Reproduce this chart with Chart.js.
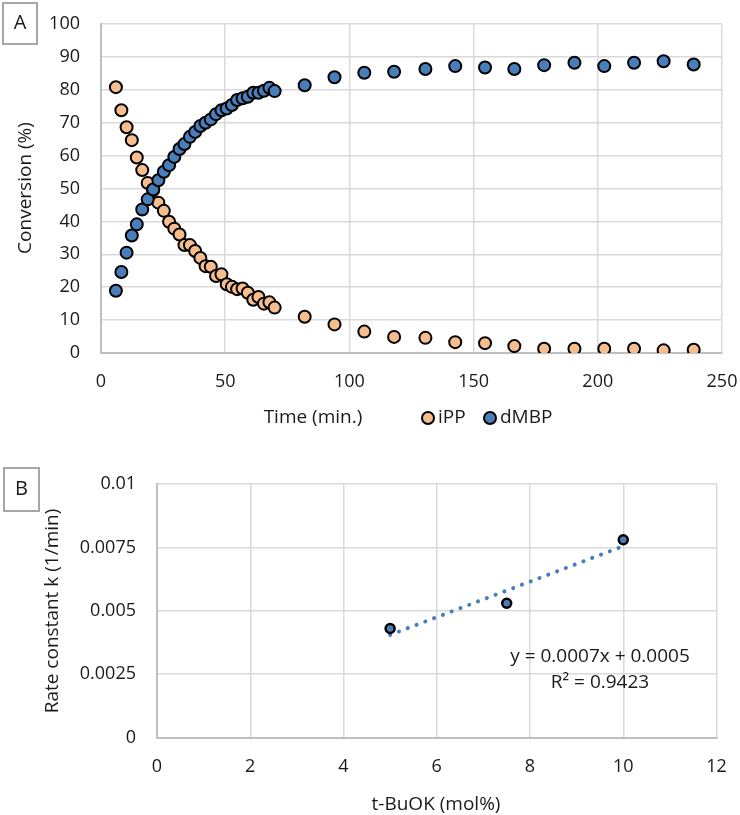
<!DOCTYPE html>
<html>
<head>
<meta charset="utf-8">
<script src="https://cdn.jsdelivr.net/npm/chart.js@4.4.1/dist/chart.umd.min.js"></script>
<style>
    body { margin: 0; background: #fff; }
    #wrap { position: relative; width: 740px; height: 815px; }
    canvas { position: absolute; left: 0; }
</style>
</head>
<body>
<div id="wrap">
    <canvas id="chartA" width="740" height="455" style="top:0"></canvas>
    <canvas id="chartB" width="740" height="360" style="top:455px"></canvas>
</div>
<script>
// ---- Panel A data: conversion vs time ----
var timeMin = [6, 8.2, 10.3, 12.4, 14.4, 16.6, 18.8, 21, 23.1, 25.3, 27.4, 29.5, 31.6, 33.6, 35.8,
    37.9, 40, 42.1, 44.2, 46.3, 48.5, 50.6, 52.7, 54.8, 57, 59.1, 61.3, 63.4, 65.6, 67.8, 69.9,
    82, 94, 106, 118, 130.6, 142.6, 154.6, 166.4, 178.4, 190.6, 202.6, 214.6, 226.5, 238.6];
var iPP = [80.8, 73.8, 68.6, 64.7, 59.4, 55.6, 51.7, 49.5, 45.7, 43.2, 39.9, 37.8, 36.0, 32.8, 32.8,
    31.0, 28.9, 26.4, 26.2, 23.4, 23.9, 20.9, 20.1, 19.4, 19.6, 18.3, 16.2, 17.0, 15.0, 15.4, 13.8,
    11.0, 8.7, 6.5, 4.9, 4.6, 3.3, 3.0, 2.1, 1.3, 1.3, 1.3, 1.3, 0.8, 1.0];
var dMBP = [18.9, 24.6, 30.5, 35.7, 39.1, 43.6, 46.7, 49.7, 52.5, 55.1, 57.1, 59.6, 62.0, 63.5, 65.7,
    67.2, 69.0, 70.0, 71.0, 72.6, 73.8, 74.3, 75.4, 76.9, 77.4, 77.9, 79.1, 79.1, 79.7, 80.6, 79.6,
    81.4, 83.8, 85.2, 85.5, 86.3, 87.2, 86.8, 86.3, 87.5, 88.2, 87.2, 88.2, 88.7, 87.7];
var xTicksA = ['0', '50', '100', '150', '200', '250'];
var yTicksA = ['0', '10', '20', '30', '40', '50', '60', '70', '80', '90', '100'];

// ---- Panel B data: rate constant vs base loading ----
var buokMol = [5, 7.5, 10];
var rateK = [0.0043, 0.0053, 0.0078];
var xTicksB = ['0', '2', '4', '6', '8', '10', '12'];
var yTicksB = ['0', '0.0025', '0.005', '0.0075', '0.01'];
var fitLabel = 'y = 0.0007x + 0.0005';
var r2Label = 'R\u00B2 = 0.9423';

var ORANGE = '#F6BD8E';
var BLUE = '#4A7EBB';
var GRID = '#D9D9D9';
var TEXT = '#1a1a1a';

Chart.defaults.font.family = "'Open Sans', sans-serif";
Chart.defaults.color = TEXT;

function pairs(xs, ys) {
    return xs.map(function (x, i) { return { x: x, y: ys[i] }; });
}

// least squares fit, like the Excel trendline
function linFit(xs, ys) {
    var n = xs.length, sx = 0, sy = 0, sxx = 0, sxy = 0;
    for (var i = 0; i < n; i++) {
        sx += xs[i]; sy += ys[i]; sxx += xs[i] * xs[i]; sxy += xs[i] * ys[i];
    }
    var m = (n * sxy - sx * sy) / (n * sxx - sx * sx);
    return { m: m, b: (sy - m * sx) / n };
}

function text(ctx, str, x, y, size, align, rot) {
    ctx.save();
    ctx.translate(x, y);
    if (rot) ctx.rotate(rot);
    ctx.font = size + "px 'Open Sans', sans-serif";
    ctx.fillStyle = TEXT;
    ctx.textAlign = align || 'center';
    ctx.textBaseline = 'middle';
    ctx.fillText(str, 0, 0);
    ctx.restore();
}

function panelBox(ctx, label, x, y, w, h) {
    ctx.save();
    ctx.strokeStyle = '#A6A6A6';
    ctx.lineWidth = 2;
    ctx.strokeRect(x, y, w, h);
    ctx.restore();
    text(ctx, label, x + w / 2, y + h / 2, 20);
}

function dot(ctx, x, y, fill) {
    ctx.save();
    ctx.beginPath();
    ctx.arc(x, y, 6, 0, Math.PI * 2);
    ctx.fillStyle = fill;
    ctx.fill();
    ctx.lineWidth = 2;
    ctx.strokeStyle = '#000';
    ctx.stroke();
    ctx.restore();
}

// fixed axis sizes; label overflow padding is dropped so the plot area stays put
function axes(xMin, xMax, xStep, xLabels, yMin, yMax, yStep, yLabels, yWidth, xHeight) {
    return {
        x: {
            type: 'linear', min: xMin, max: xMax,
            ticks: { stepSize: xStep, padding: 18, font: { size: 18 },
                callback: function (v, i) { return xLabels[i]; } },
            grid: { color: GRID, lineWidth: 1.5, drawTicks: false },
            border: { color: '#BFBFBF', width: 2 },
            afterFit: function (s) {
                s.height = xHeight;
                s.paddingLeft = 0; s.paddingRight = 0;
            }
        },
        y: {
            type: 'linear', min: yMin, max: yMax,
            ticks: { stepSize: yStep, padding: 21, font: { size: 18 },
                callback: function (v, i) { return yLabels[i]; } },
            grid: { color: GRID, lineWidth: 1.5, drawTicks: false },
            border: { color: '#BFBFBF', width: 2 },
            afterFit: function (s) {
                s.width = yWidth;
                s.paddingTop = 0; s.paddingBottom = 0;
            }
        }
    };
}

// ---- Chart A ----
new Chart(document.getElementById('chartA').getContext('2d'), {
    type: 'scatter',
    data: {
        datasets: [{
            label: 'iPP',
            data: pairs(timeMin, iPP),
            backgroundColor: ORANGE,
            borderColor: '#000',
            borderWidth: 2,
            pointRadius: 6,
            order: 1
        }, {
            label: 'dMBP',
            data: pairs(timeMin, dMBP),
            backgroundColor: BLUE,
            borderColor: '#000',
            borderWidth: 2,
            pointRadius: 6,
            order: 0
        }]
    },
    options: {
        responsive: false,
        animation: false,
        layout: { padding: { top: 24, right: 18, left: 0, bottom: 0 } },
        plugins: { legend: { display: false }, tooltip: { enabled: false } },
        scales: axes(0, 250, 50, xTicksA, 0, 100, 10, yTicksA, 101, 102)
    },
    plugins: [{
        id: 'labelsA',
        afterDraw: function (chart) {
            var ctx = chart.ctx;
            panelBox(ctx, 'A', 3, 3, 34, 41);
            text(ctx, 'Conversion (%)', 26, 188, 19, 'center', -Math.PI / 2);
            text(ctx, 'Time (min.)', 313, 418, 19);
            dot(ctx, 428, 418, ORANGE);
            text(ctx, 'iPP', 438, 418, 19, 'left');
            dot(ctx, 490, 418, BLUE);
            text(ctx, 'dMBP', 500, 418, 19, 'left');
        }
    }]
});

// ---- Chart B ----
var fit = linFit(buokMol, rateK);
var fitX = [buokMol[0], buokMol[buokMol.length - 1]];

new Chart(document.getElementById('chartB').getContext('2d'), {
    type: 'scatter',
    data: {
        datasets: [{
            label: 'k',
            data: pairs(buokMol, rateK),
            backgroundColor: BLUE,
            borderColor: '#000',
            borderWidth: 2.5,
            pointRadius: 4.5,
            order: 0
        }, {
            type: 'line',
            label: 'Linear fit',
            data: fitX.map(function (x) { return { x: x, y: fit.m * x + fit.b }; }),
            borderColor: BLUE,
            borderWidth: 4,
            borderDash: [0.1, 9.3],
            borderCapStyle: 'round',
            pointRadius: 0,
            fill: false,
            order: 1
        }]
    },
    options: {
        responsive: false,
        animation: false,
        layout: { padding: { top: 29, right: 23.5, left: 0, bottom: 0 } },
        plugins: { legend: { display: false }, tooltip: { enabled: false } },
        scales: axes(0, 12, 2, xTicksB, 0, 0.01, 0.0025, yTicksB, 157, 77.4)
    },
    plugins: [{
        id: 'labelsB',
        afterDraw: function (chart) {
            var ctx = chart.ctx;
            panelBox(ctx, 'B', 4, 13, 35, 43);
            text(ctx, 'Rate constant k (1/min)', 53, 156, 19, 'center', -Math.PI / 2);
            text(ctx, 't-BuOK (mol%)', 436, 350, 19);
            text(ctx, fitLabel, 600, 202, 19);
            text(ctx, r2Label, 600, 228, 19);
        }
    }]
});
</script>
</body>
</html>
